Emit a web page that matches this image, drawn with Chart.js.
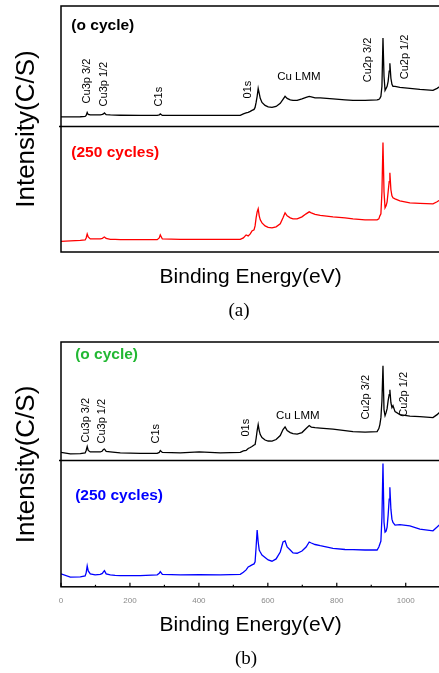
<!DOCTYPE html>
<html>
<head>
<meta charset="utf-8">
<script src="https://cdn.jsdelivr.net/npm/chart.js@4.4.1/dist/chart.umd.min.js"></script>
<style>
  html, body { margin: 0; padding: 0; background: #fff; overflow: hidden; width: 439px; height: 673px; }
  canvas { position: absolute; left: 0; }
  .cap { position: absolute; font-family: "Liberation Serif", "Times New Roman", serif; font-size: 19px; color: #000; transform: translate(-50%, -50%); }
</style>
</head>
<body>
<canvas id="chartA" width="445" height="300" style="top:0"></canvas>
<div class="cap" style="left:239px;top:310px">(a)</div>
<canvas id="chartB" width="445" height="316" style="top:330px"></canvas>
<div class="cap" style="left:246px;top:658px">(b)</div>

<script>
// binding energy (eV), shared by all four spectra
const energy = [0, 27, 56, 70, 73, 76, 79, 85, 99, 114,
  120, 123, 126, 131, 143, 157, 172, 230, 279, 285,
  288, 294, 346, 401, 462, 520, 529, 537, 543, 549,
  554, 560, 563, 566, 569, 572, 575, 578, 583, 592,
  601, 612, 624, 636, 644, 650, 656, 665, 673, 685,
  699, 711, 720, 726, 737, 752, 789, 824, 847, 882,
  917, 922, 925, 928, 931, 934, 937, 940, 943, 946,
  949, 952, 954, 957, 960, 963, 969, 983, 1012, 1041,
  1079, 1091, 1100];

// (a) intensities, arbitrary units
const a0Cycle = [9.5, 9.5, 9.7, 10, 11, 14, 12, 11.5, 11.5, 11.5,
  12, 12.5, 13.5, 11.8, 11.5, 11.3, 11.2, 11, 11, 11.5,
  12.5, 11, 11, 11, 11, 11, 12.5, 13.5, 14, 15,
  16, 17, 19, 24, 30, 38, 33, 28, 24, 21,
  19.5, 19, 20, 23, 27, 30, 28, 26.5, 26, 26,
  27.5, 29, 30, 29.5, 28.5, 28.5, 27.5, 26.5, 26, 26,
  26.5, 27, 28, 30, 40, 88, 50, 36, 38, 40,
  45, 55, 63, 48, 42, 40, 40, 39, 38, 37,
  36, 38, 40];
const a250Cycles = [10.5, 11, 11.5, 12, 14, 18, 15, 13, 13, 13,
  13.5, 14.5, 15, 13.5, 12.5, 12.5, 12.3, 12.3, 12.3, 14,
  17, 13, 12.5, 12.5, 12.5, 12.5, 14, 17, 16, 18,
  21, 22, 26, 34, 40, 43, 36, 32, 29, 26,
  24.5, 24, 25, 28, 34, 39, 36, 34, 33, 33,
  35, 38, 40, 39, 37.5, 36.5, 35, 34, 33, 32,
  32, 33, 36, 38, 60, 109, 60, 44, 46, 50,
  60, 70, 79, 62, 56, 54, 53, 51, 49, 48.5,
  48, 50, 52];

// (b) intensities, arbitrary units
const b0Cycle = [8, 6.5, 6.8, 7.5, 10, 14, 10, 8.5, 8.5, 8.5,
  9.5, 11, 11.5, 9, 8.5, 8, 7.5, 7, 7, 8,
  10, 8, 7.5, 8.5, 7.5, 8, 9.5, 10, 12, 13,
  14, 15.5, 16, 22, 30, 36, 30, 26, 23, 20.5,
  19.5, 19.3, 21, 25, 31, 33.7, 30, 28, 27, 26.5,
  28, 32, 35, 33.5, 33, 32.5, 31.5, 30, 29, 28.5,
  29, 32, 36, 43, 60, 95, 51, 45, 48, 52,
  60, 66, 71, 58, 53, 55, 49, 46, 44.5, 44,
  43, 46, 49];
const b250Cycles = [13, 9.7, 10, 11, 14, 21, 16, 13, 12, 12.5,
  13.5, 15, 16.3, 13, 12, 11.5, 11.3, 11.3, 12, 13.5,
  15.3, 12.5, 12, 12.3, 12, 12.5, 14.7, 17, 20, 21,
  22, 23, 25, 40, 57, 45, 37, 35, 32, 29.5,
  27, 25.7, 28, 35, 45, 46, 40, 37, 34, 33.7,
  36, 40, 45, 44, 42.5, 41.3, 38.7, 37.5, 37.3, 37,
  37, 40, 43, 46, 70, 124, 65, 55, 56, 60,
  72, 88, 100, 78, 68, 64.7, 62, 62.5, 61.3, 58,
  56.3, 60, 63];

const xMajorTicks = [0, 200, 400, 600, 800, 1000];
const xMinorTicks = [100, 300, 500, 700, 900, 1100];

const SANS = '"Liberation Sans", Arial, sans-serif';

function points(vals, shift) {
  return energy.map((e, i) => ({ x: e, y: vals[i] + shift }));
}

// frame, divider, inner ticks and peak labels
const framePlugin = {
  id: 'frame',
  afterDatasetsDraw(chart, args, o) {
    const { ctx, chartArea: a, scales: { x, y } } = chart;
    ctx.save();
    ctx.strokeStyle = '#000';
    ctx.lineWidth = 1.5;
    ctx.strokeRect(a.left, a.top, a.right - a.left, a.bottom - a.top);
    const yd = y.getPixelForValue(o.split);
    ctx.beginPath();
    ctx.moveTo(a.left - 2, yd);
    ctx.lineTo(a.right, yd);
    ctx.stroke();

    if (o.ticks) {
      ctx.lineWidth = 1.2;
      xMajorTicks.concat(xMinorTicks).forEach(v => {
        const px = x.getPixelForValue(v);
        const len = xMajorTicks.includes(v) ? 4 : 2;
        ctx.beginPath();
        ctx.moveTo(px, a.bottom);
        ctx.lineTo(px, a.bottom - len);
        ctx.stroke();
      });
    }

    o.labels.forEach(l => {
      ctx.save();
      ctx.translate(x.getPixelForValue(l.x), y.getPixelForValue(l.y));
      if (l.rot) ctx.rotate(-Math.PI / 2);
      ctx.font = (l.bold ? 'bold ' : '') + l.size + 'px ' + SANS;
      ctx.fillStyle = l.color || '#000';
      ctx.textAlign = 'left';
      ctx.textBaseline = 'middle';
      ctx.fillText(l.text, 0, 0);
      ctx.restore();
    });
    ctx.restore();
  }
};

function makePanel(id, p) {
  return new Chart(document.getElementById(id), {
    type: 'line',
    data: {
      datasets: [
        { data: points(p.top, p.split), borderColor: p.topColor },
        { data: points(p.bottom, 0), borderColor: p.bottomColor }
      ]
    },
    options: {
      responsive: false,
      animation: false,
      layout: { padding: p.padding },
      elements: {
        point: { radius: 0 },
        line: { borderWidth: 1.3, tension: 0 }
      },
      scales: {
        x: {
          type: 'linear', min: 0, max: 1100,
          grid: { display: false, drawTicks: false },
          border: { display: false },
          afterBuildTicks: s => { s.ticks = xMajorTicks.map(v => ({ value: v })); },
          ticks: {
            display: p.xLabels, autoSkip: false, maxRotation: 0, padding: 9.2,
            color: '#8a8a8a', font: { family: SANS, size: 8 },
            callback: v => String(v)
          },
          title: {
            display: true, text: 'Binding Energy(eV)', color: '#000',
            font: { family: SANS, size: 21 }, padding: p.xTitlePad
          }
        },
        y: {
          min: 0, max: p.max,
          grid: { display: false, drawTicks: false },
          border: { display: false },
          ticks: { display: false },
          title: {
            display: true, text: 'Intensity(C/S)', color: '#000',
            font: { family: SANS, size: 26 }, padding: { top: 4, bottom: 18.4 }
          }
        }
      },
      plugins: {
        legend: { display: false },
        tooltip: { enabled: false },
        frame: { split: p.split, ticks: p.xLabels, labels: p.labels }
      }
    },
    plugins: [framePlugin]
  });
}

makePanel('chartA', {
  top: a0Cycle, bottom: a250Cycles, split: 125, max: 245,
  topColor: '#000', bottomColor: '#ff0000', xLabels: false,
  padding: { left: 7.4, right: 4.8, top: 6, bottom: 6.4 },
  xTitlePad: { top: 12.4, bottom: 4 },
  labels: [
    { text: '(o cycle)', x: 30, y: 225, size: 15.5, bold: true },
    { text: '(250 cycles)', x: 30, y: 99, size: 15.5, bold: true, color: '#ff0000' },
    { text: 'Cu3p 3/2', x: 76, y: 148, size: 11, rot: true },
    { text: 'Cu3p 1/2', x: 126, y: 145, size: 11, rot: true },
    { text: 'C1s', x: 285, y: 145, size: 11, rot: true },
    { text: '01s', x: 543, y: 153, size: 11, rot: true },
    { text: 'Cu LMM', x: 627, y: 174, size: 11.5 },
    { text: 'Cu2p 3/2', x: 891, y: 169, size: 11, rot: true },
    { text: 'Cu2p 1/2', x: 998, y: 172, size: 11, rot: true }
  ]
});

makePanel('chartB', {
  top: b0Cycle, bottom: b250Cycles, split: 127, max: 246,
  topColor: '#000', bottomColor: '#0000ff', xLabels: true,
  padding: { left: 7.4, right: 4.8, top: 12, bottom: 4.4 },
  xTitlePad: { top: -2.4, bottom: 4 },
  labels: [
    { text: '(o cycle)', x: 41, y: 233, size: 15.5, bold: true, color: '#22b833' },
    { text: '(250 cycles)', x: 41, y: 92, size: 15.5, bold: true, color: '#0000ff' },
    { text: 'Cu3p 3/2', x: 73, y: 145, size: 11, rot: true },
    { text: 'Cu3p 1/2', x: 120, y: 144, size: 11, rot: true },
    { text: 'C1s', x: 276, y: 144, size: 11, rot: true },
    { text: '01s', x: 537, y: 151, size: 11, rot: true },
    { text: 'Cu LMM', x: 624, y: 172, size: 11.5 },
    { text: 'Cu2p 3/2', x: 885, y: 168, size: 11, rot: true },
    { text: 'Cu2p 1/2', x: 995, y: 171, size: 11, rot: true }
  ]
});
</script>
</body>
</html>
